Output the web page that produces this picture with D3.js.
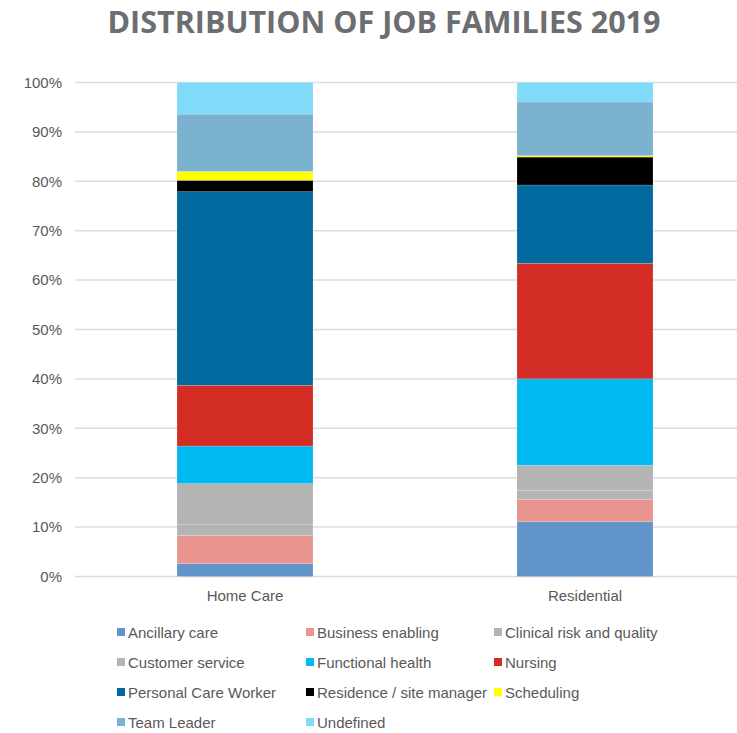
<!DOCTYPE html>
<html>
<head>
<meta charset="utf-8">
<script src="https://cdn.jsdelivr.net/npm/d3@7"></script>
<style>
  html, body { margin: 0; padding: 0; background: #fff; }
  svg { display: block; }
</style>
</head>
<body>
<svg id="chart" width="737" height="733"></svg>
<script>
// Share of staff per job family (%), by care setting
const categories = ["Home Care", "Residential"];
const families = [
  "Ancillary care", "Business enabling", "Clinical risk and quality",
  "Customer service", "Functional health", "Nursing",
  "Personal Care Worker", "Residence / site manager", "Scheduling",
  "Team Leader", "Undefined"
];
const homeCare    = [2.6, 5.7, 2.3, 8.2, 7.6, 12.3, 39.2, 2.3, 1.8, 11.6, 6.4];
const residential = [11.1, 4.5, 1.8, 5.1, 17.5, 23.4, 15.85, 5.65, 0.3, 10.85, 3.95];
const yTicks = [0, 10, 20, 30, 40, 50, 60, 70, 80, 90, 100];
const colors = [
  "#6194c8", "#e8948f", "#b4b4b4", "#b4b4b4", "#00b9f1", "#d32d26",
  "#016b9f", "#000000", "#ffff00", "#7bb2cf", "#80dbf9"
];

const svg = d3.select("#chart");
const labelColor = "#595959";
const font = "'Liberation Sans', Arial, sans-serif";

const rows = categories.map((c, i) => {
  const vals = i === 0 ? homeCare : residential;
  const r = { category: c };
  families.forEach((f, j) => r[f] = vals[j]);
  return r;
});

const x = d3.scaleBand().domain(categories).range([75, 755])
  .paddingInner(0.6).paddingOuter(0.3);
const y = d3.scaleLinear().domain([0, 100]).range([576.5, 82.5]);
const color = d3.scaleOrdinal().domain(families).range(colors);

// Title
svg.append("text")
  .attr("x", 384).attr("y", 33)
  .attr("text-anchor", "middle")
  .attr("font-family", "'Open Sans', sans-serif")
  .attr("font-weight", "bold")
  .attr("font-size", 30.5)
  .attr("fill", "#6d6e71")
  .text("DISTRIBUTION OF JOB FAMILIES 2019");

// Gridlines
svg.append("g").selectAll("line").data(yTicks).join("line")
  .attr("x1", 75).attr("x2", 737)
  .attr("y1", d => y(d)).attr("y2", d => y(d))
  .attr("stroke", "#dcdcdc").attr("stroke-width", 1.5);

// Y axis labels
const yAxis = d3.axisLeft(y).tickValues(yTicks).tickFormat(d => d + "%").tickSize(0).tickPadding(0);
const yg = svg.append("g").attr("transform", "translate(62,0)").call(yAxis);
yg.select(".domain").remove();
yg.selectAll("text").attr("font-family", font).attr("font-size", 15).attr("fill", labelColor);

// Stacked bars
const stack = d3.stack().keys(families);
const series = stack(rows);
svg.append("g").selectAll("g").data(series).join("g")
  .attr("fill", d => color(d.key))
  .selectAll("rect").data(d => d).join("rect")
  .attr("x", d => x(d.data.category))
  .attr("width", x.bandwidth())
  .attr("y", d => y(d[1]))
  .attr("height", d => y(d[0]) - y(d[1]))
  .attr("stroke", "rgba(255,255,255,0.25)")
  .attr("stroke-width", 0.6);

// Category labels
const xAxis = d3.axisBottom(x).tickSize(0).tickPadding(0);
const xg = svg.append("g").attr("transform", "translate(0,601)").call(xAxis);
xg.select(".domain").remove();
xg.selectAll("text").attr("font-family", font).attr("font-size", 15).attr("fill", labelColor)
  .attr("dy", 0);

// Legend
const colX = [117, 306, 494];
const legend = svg.append("g").selectAll("g").data(families).join("g")
  .attr("transform", (d, i) => `translate(${colX[i % 3]},${633 + Math.floor(i / 3) * 30})`);
legend.append("rect")
  .attr("x", 0).attr("y", -5).attr("width", 8).attr("height", 8)
  .attr("fill", d => color(d));
legend.append("text")
  .attr("x", 11).attr("y", 5)
  .attr("font-family", font).attr("font-size", 15).attr("fill", labelColor)
  .text(d => d);
</script>
</body>
</html>
